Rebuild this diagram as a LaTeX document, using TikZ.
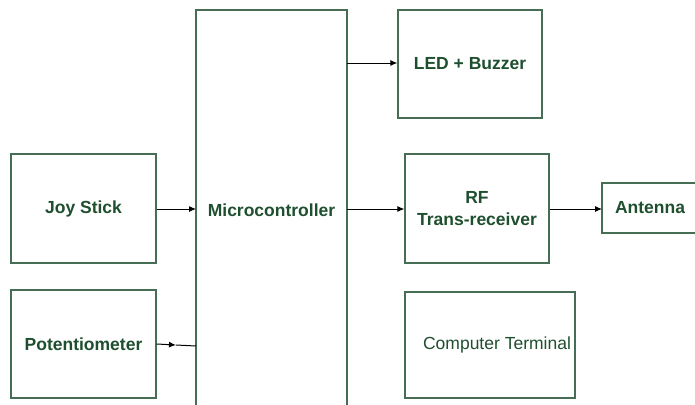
\documentclass[tikz,border=0pt]{standalone}
\usepackage{fontspec}
\setmainfont{Liberation Sans}
\usetikzlibrary{arrows.meta,decorations.markings}
\definecolor{boxline}{HTML}{456E55}
\definecolor{boxtext}{HTML}{1E4F2E}
\begin{document}
\begin{tikzpicture}[x=1pt,y=-1pt,
  box/.style={draw=boxline,line width=1.2pt,inner sep=0pt,fill=white},
  lbl/.style={text=boxtext,font=\fontsize{17.5}{22}\selectfont\bfseries,align=center},
  plain/.style={text=boxtext,font=\fontsize{17.5}{22}\selectfont},
  conn/.style={draw=black,line width=1pt,-{Latex[length=7pt,width=6pt]}},
  wire/.style={draw=black,line width=1pt}]
\useasboundingbox (0,0) rectangle (695,404);
\clip (0,0) rectangle (695,404);
% boxes
\node[box,minimum width=145pt,minimum height=109pt] (joy) at (83.5,208.5) {};
\node[lbl] (joyt) at (83.5,208.5) {Joy Stick};
\node[box,minimum width=145pt,minimum height=108pt] (pot) at (83.5,344) {};
\node[lbl] (pott) at (83.5,344) {Potentiometer};
\node[box,minimum width=144pt,minimum height=108pt] (led) at (470,64) {};
\node[lbl] (ledt) at (470,64) {LED + Buzzer};
\node[box,minimum width=144pt,minimum height=109pt] (rf) at (477,208.5) {};
\node[lbl] (rft) at (477,208.5) {RF\\Trans-receiver};
\node[box,minimum width=170pt,minimum height=106pt] (comp) at (490,345) {};
\node[plain] (compt) at (497,345) {Computer Terminal};
% microcontroller (open at bottom)
\coordinate (mtl) at (196,10);
\coordinate (mtr) at (347,10);
\coordinate (mbl) at (196,410);
\coordinate (mbr) at (347,410);
\draw[boxline,line width=1.2pt] (mbl) -- (mtl) -- (mtr) -- (mbr);
\node[lbl] (micro) at (271.5,210) {Microcontroller};
% antenna (cut at right)
\coordinate (atr) at (700,183);
\coordinate (atl) at (602,183);
\coordinate (abl) at (602,233);
\coordinate (abr) at (700,233);
\draw[boxline,line width=1.2pt] (atr) -- (atl) -- (abl) -- (abr);
\node[lbl] (ant) at (650,208) {Antenna};
% connector end points on micro / antenna
\coordinate (mjoy) at (196,209);
\coordinate (mpot) at (196,346);
\coordinate (mled) at (347,63);
\coordinate (mrf) at (347,209);
\coordinate (antw) at (602,209);
\coordinate (potmid) at (176,345);
% connectors
\draw[conn] (joy.east |- mjoy) -- (mjoy);
\draw[conn] (mled) -- (led.west |- mled);
\draw[conn] (mrf) -- (rf.west |- mrf);
\draw[conn] (rf.east |- antw) -- (antw);
\draw[conn] (pot.east) -- (potmid);
\draw[wire] (potmid) -- (mpot);
\end{tikzpicture}
\end{document}
